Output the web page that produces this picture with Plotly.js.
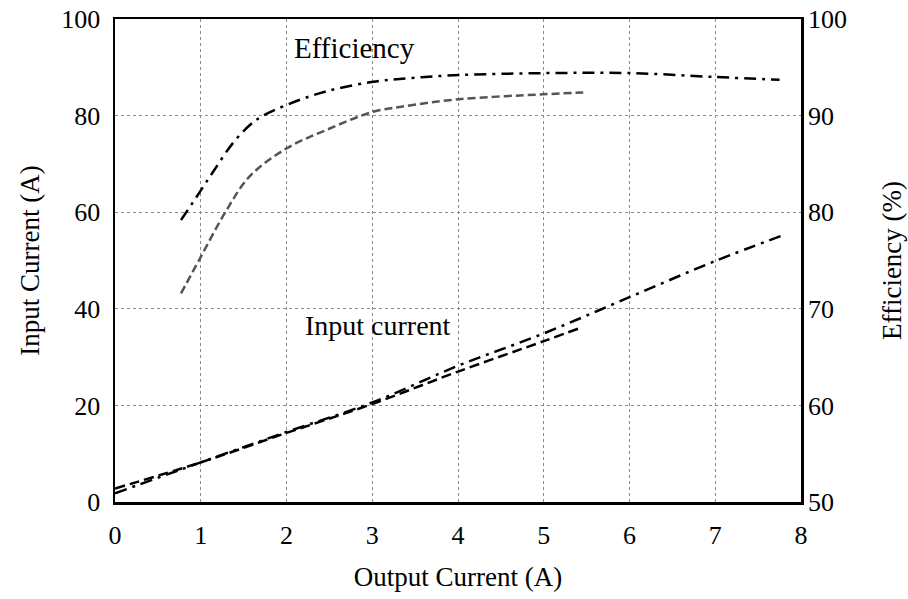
<!DOCTYPE html>
<html>
<head>
<meta charset="utf-8">
<script src="https://cdn.plot.ly/plotly-3.0.1.min.js"></script>
<style>
  html, body { margin: 0; padding: 0; background: #fff; }
  #chart { width: 908px; height: 599px; }
</style>
</head>
<body>
<div id="chart"></div>
<script>
// Efficiency (%) vs output current, right axis
const effAx = [0.77, 0.99, 1.16, 1.37, 1.57, 1.71, 2.0, 2.46, 3.01, 3.47, 4.02, 5.03, 6.0, 6.99, 7.75];
const effA  = [79.2, 82.1, 84.4, 87.1, 89.0, 89.9, 91.1, 92.5, 93.5, 93.9, 94.2, 94.4, 94.4, 94.0, 93.7];

const effBx = [0.77, 0.99, 1.28, 1.57, 2.0, 2.46, 3.01, 3.32, 4.02, 4.99, 5.46];
const effB  = [71.6, 75.2, 79.9, 83.7, 86.6, 88.5, 90.4, 90.9, 91.7, 92.2, 92.4];

// Input current (A) vs output current, left axis
const inAx = [0, 1, 2, 3, 4, 5, 6, 7, 7.8];
const inA  = [1.8, 8.2, 14.5, 20.6, 28.2, 34.9, 42.4, 49.9, 55.3];

const inBx = [0, 1, 2, 3, 4, 5, 5.42];
const inB  = [2.8, 8.2, 14.3, 20.3, 27.0, 33.3, 36.0];

const xTicks = [0, 1, 2, 3, 4, 5, 6, 7, 8];
const yTicks = [0, 20, 40, 60, 80, 100];
const y2Ticks = [50, 60, 70, 80, 90, 100];

const FONT = "Liberation Serif, Times New Roman, serif";
const dashDot = "12px,6px,3px,6px";

const traces = [
  { x: effAx, y: effA, yaxis: 'y2', mode: 'lines', line: { color: '#000', width: 2.5, dash: dashDot, shape: 'spline' } },
  { x: effBx, y: effB, yaxis: 'y2', mode: 'lines', line: { color: '#555', width: 2.5, dash: '8px,4px', shape: 'spline' } },
  { x: inAx, y: inA, mode: 'lines', line: { color: '#000', width: 2.5, dash: dashDot, shape: 'spline' } },
  { x: inBx, y: inB, mode: 'lines', line: { color: '#000', width: 2.5, dash: '10px,5px', shape: 'spline' } }
];

const gridStyle = { showgrid: true, gridcolor: '#8a8a8a', gridwidth: 1, griddash: 'dot', zeroline: false };

const layout = {
  width: 908, height: 599,
  margin: { l: 115, r: 107, t: 19, b: 97 },
  paper_bgcolor: '#fff', plot_bgcolor: '#fff',
  showlegend: false,
  font: { family: FONT, size: 26, color: '#000' },
  xaxis: Object.assign({
    range: [0, 8], tickvals: xTicks, ticktext: xTicks.map(String),
    showline: true, linecolor: '#000', linewidth: 2.5, mirror: true,
    ticks: '', ticklabelstandoff: 8,
    tickfont: { family: FONT, size: 26 },
    title: { text: 'Output Current (A)', font: { family: FONT, size: 27 }, standoff: 19 }
  }, gridStyle),
  yaxis: Object.assign({
    range: [0, 100], tickvals: yTicks, ticktext: yTicks.map(String),
    showline: true, linecolor: '#000', linewidth: 2.5, mirror: true,
    ticks: '', ticklabelstandoff: 7,
    tickfont: { family: FONT, size: 26 },
    title: { text: 'Input Current (A)', font: { family: FONT, size: 27 }, standoff: 14 }
  }, gridStyle),
  yaxis2: {
    overlaying: 'y', side: 'right', range: [50, 100],
    tickvals: y2Ticks, ticktext: y2Ticks.map(String),
    showgrid: false, zeroline: false, showline: false,
    ticks: '', ticklabelstandoff: 6,
    tickfont: { family: FONT, size: 26 },
    title: { text: 'Efficiency (%)', font: { family: FONT, size: 27 }, standoff: 36 }
  },
  annotations: [
    { x: 2.06, y: 94, xref: 'x', yref: 'y', text: 'Efficiency', showarrow: false,
      xanchor: 'left', yanchor: 'middle', font: { family: FONT, size: 29 } },
    { x: 2.19, y: 36.6, xref: 'x', yref: 'y', text: 'Input current', showarrow: false,
      xanchor: 'left', yanchor: 'middle', font: { family: FONT, size: 28 } }
  ]
};

Plotly.newPlot('chart', traces, layout, { displayModeBar: false, staticPlot: true });
</script>
</body>
</html>
